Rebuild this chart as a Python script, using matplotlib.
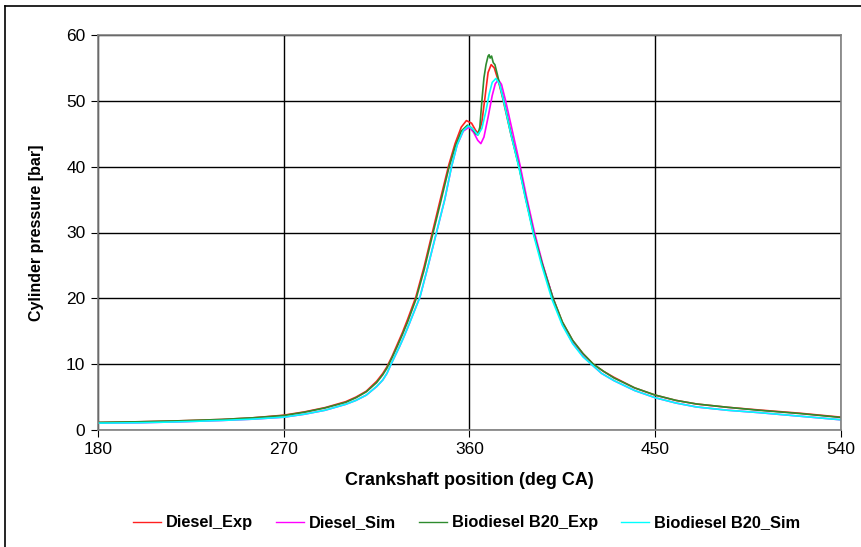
import matplotlib.pyplot as plt
from matplotlib.lines import Line2D

plt.rcParams['font.family'] = ['Liberation Sans', 'DejaVu Sans']

# crank angle [deg CA] / pressure [bar]
diesel_exp_x = [180, 200, 220, 240, 255, 270, 280, 290, 300, 305, 310, 315, 318, 320, 322.5, 325,
                327.5, 330, 334, 338, 342, 346, 350, 353, 356, 358.5, 361, 363, 364.5, 366, 367.5,
                369, 370.5, 372, 374, 376, 380, 384, 387, 391, 395, 400.5, 405, 410, 415, 420,
                425, 430, 440, 450, 460, 470, 485, 500, 520, 540]
diesel_exp_y = [1.15, 1.25, 1.4, 1.6, 1.85, 2.25, 2.75, 3.4, 4.3, 5.0, 5.9, 7.4, 8.6, 9.6, 11.2, 13.0,
                14.8, 16.8, 20.2, 24.8, 30.0, 35.2, 40.3, 43.5, 46.0, 47.0, 46.6, 45.5, 45.0, 46.8, 50.5,
                54.3, 55.5, 55.0, 53.0, 50.5, 45.0, 40.0, 35.5, 30.0, 25.5, 20.0, 16.4, 13.6, 11.6, 10.0,
                8.9, 8.0, 6.4, 5.3, 4.5, 3.95, 3.45, 3.05, 2.55, 1.95]

diesel_sim_x = [180, 200, 220, 240, 255, 270, 280, 290, 300, 305, 310, 315, 318, 320, 322, 324,
                326, 328, 330, 336, 340, 344, 348, 351.3, 354, 357, 359.8, 362, 364, 365.5, 367,
                369, 371, 372.5, 374, 375.5, 377.5, 380.5, 384.5, 387.5, 391.5, 395.5, 400.5, 405,
                410, 415, 419, 424, 430, 440, 450, 460, 470, 485, 500, 520, 540]
diesel_sim_y = [1.05, 1.1, 1.25, 1.45, 1.65, 1.95, 2.4, 3.0, 3.9, 4.5, 5.3, 6.6, 7.6, 8.6, 10.0, 11.3,
                12.6, 14.0, 15.5, 20.2, 25.0, 30.0, 35.0, 40.0, 43.3, 45.4, 46.0, 45.2, 44.0, 43.5, 44.5,
                47.5, 50.8, 52.6, 53.2, 52.5, 50.0, 45.8, 40.2, 35.6, 30.0, 25.2, 20.0, 16.1,
                13.2, 11.2, 10.0, 8.6, 7.5, 6.0, 4.9, 4.1, 3.5, 3.0, 2.65, 2.1, 1.55]

b20_exp_x = [180, 200, 220, 240, 255, 270, 280, 290, 300, 305, 310, 315, 318, 320, 322.5, 325,
             327.5, 330, 334, 338, 342, 346, 350, 353, 356, 359, 361, 363, 364, 365, 366, 367, 368,
             369, 369.5, 370, 370.7, 371.5, 372.3, 373.5, 375, 377, 380, 384, 387, 391, 395,
             400.5, 405, 410, 415, 420, 425, 430, 440, 450, 460, 470, 485, 500, 520, 540]
b20_exp_y = [1.15, 1.25, 1.4, 1.6, 1.85, 2.2, 2.7, 3.35, 4.2, 4.9, 5.8, 7.2, 8.4, 9.4, 11.0, 12.7,
             14.5, 16.4, 19.8, 24.3, 29.5, 34.6, 39.8, 43.0, 45.4, 46.3, 45.9, 45.0, 44.8, 46.0, 50.0,
             53.5, 55.5, 56.8, 57.0, 56.5, 56.8, 55.8, 55.5, 54.0, 52.0, 49.5, 45.2, 40.0, 35.6, 30.0,
             25.5, 20.0, 16.4, 13.6, 11.6, 10.0, 8.9, 7.9, 6.4, 5.3, 4.5, 3.95, 3.45, 3.0, 2.5, 1.9]

b20_sim_x = [180, 200, 220, 240, 255, 270, 280, 290, 300, 305, 310, 315, 318, 320, 322, 324,
             326, 328, 330, 336, 340, 344, 348, 351.3, 354, 357, 359.5, 362, 364, 366, 368, 369.5,
             371, 372.8, 374.5, 376.5, 380, 384, 387, 391, 395, 400, 405, 410, 415, 419, 424,
             430, 440, 450, 460, 470, 485, 500, 520, 540]
b20_sim_y = [1.05, 1.1, 1.25, 1.45, 1.65, 1.95, 2.4, 3.0, 3.9, 4.5, 5.3, 6.6, 7.6, 8.6, 10.0, 11.3,
             12.6, 14.0, 15.5, 20.2, 25.0, 30.0, 35.0, 40.0, 43.3, 45.5, 46.2, 45.6, 44.8, 45.8, 48.5,
             51.0, 52.8, 53.4, 52.6, 50.0, 45.0, 39.8, 35.3, 29.7, 25.0, 19.8, 15.9, 13.1, 11.1, 10.0,
             8.6, 7.5, 6.0, 4.9, 4.1, 3.5, 3.0, 2.65, 2.1, 1.55]

series = [
    ('Diesel_Exp', diesel_exp_x, diesel_exp_y, '#ff2020'),
    ('Diesel_Sim', diesel_sim_x, diesel_sim_y, '#ff00ff'),
    ('Biodiesel B20_Exp', b20_exp_x, b20_exp_y, '#2e8b2e'),
    ('Biodiesel B20_Sim', b20_sim_x, b20_sim_y, '#00ffff'),
]

fig = plt.figure(figsize=(8.62, 5.47), dpi=100)
ax = fig.add_axes([98 / 862, 1 - 430 / 547, (841 - 98) / 862, (430 - 35) / 547])

for name, xs, ys, col in series:
    ax.plot(xs, ys, color=col, lw=1.2, label=name)

ax.set_xlim(180, 540)
ax.set_ylim(0, 60)
ax.set_xticks([180, 270, 360, 450, 540])
ax.set_yticks(range(0, 61, 10))
ax.grid(True, color='black', lw=1)
ax.set_axisbelow(True)
for s in ax.spines.values():
    s.set_color('#808080')
    s.set_linewidth(1.2)
ax.tick_params(direction='out', length=5, color='black', labelsize=12.5, pad=4)

ax.set_xlabel('Crankshaft position (deg CA)', fontsize=13, fontweight='bold', va='center')
ax.xaxis.set_label_coords(0.5, -0.129)
ax.set_ylabel('Cylinder pressure [bar]', fontsize=11.5, fontweight='bold', va='center')
ax.yaxis.set_label_coords(-0.083, 0.5)

leg = ax.legend(loc='center', bbox_to_anchor=(0.496, -0.235), ncol=4, frameon=False,
                prop={'weight': 'bold', 'size': 11.8}, handlelength=1.7, columnspacing=1.4,
                handletextpad=0.3)
for h in leg.get_lines():
    h.set_linewidth(1.0)

# outer chart-area frame
fig.add_artist(Line2D([5 / 862, 1], [1 - 6 / 547, 1 - 6 / 547], color='black', lw=1.2,
                      transform=fig.transFigure))
fig.add_artist(Line2D([5 / 862, 5 / 862], [0, 1 - 6 / 547], color='black', lw=1.2,
                      transform=fig.transFigure))

fig.savefig('out.png', dpi=100)
